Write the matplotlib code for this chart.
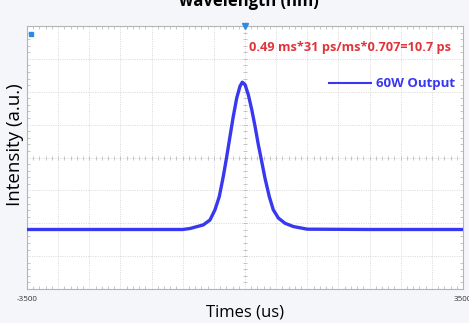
import numpy as np
import matplotlib
matplotlib.use('Agg')
import matplotlib.pyplot as plt

# Pulse trace (time in us, intensity in divisions)
time_us = [-3500, -2000, -1000, -883, -670, -562, -482, -413, -349, -294, -241, -188,
           -133, -80, -43, 0, 53, 108, 161, 214, 268, 321, 390, 454, 535, 642,
           776, 1000, 2000, 3500]
intensity = [1.81, 1.81, 1.81, 1.84, 1.95, 2.10, 2.41, 2.81, 3.42, 4.02, 4.64, 5.25,
             5.81, 6.17, 6.29, 6.22, 5.91, 5.46, 4.95, 4.39, 3.88, 3.37, 2.81, 2.41, 2.16, 2.00,
             1.90, 1.82, 1.81, 1.81]

x_range = (-3500, 3500)
y_range = (0, 8)
note = '0.49 ms*31 ps/ms*0.707=10.7 ps'
series_label = '60W Output'

plt.rcParams['font.family'] = ['Open Sans', 'DejaVu Sans']

fig = plt.figure(figsize=(4.69, 3.23), dpi=100, facecolor='#f4f6f9')
ax = fig.add_axes([27 / 469, 34 / 323, 436 / 469, 263 / 323])
ax.set_facecolor('white')

ax.set_xlim(*x_range)
ax.set_ylim(*y_range)

# oscilloscope grid
xt = np.arange(x_range[0], x_range[1] + 1, 500)
yt = np.arange(y_range[0], y_range[1] + 1, 1)
ax.set_xticks(xt)
ax.set_yticks(yt)
ax.set_xticklabels([str(v) if v in x_range else '' for v in xt])
ax.set_yticklabels([])
ax.grid(True, color='#d2d2d2', linestyle=(0, (1.2, 1.6)), linewidth=0.6)
ax.tick_params(axis='both', length=0, labelsize=5.8, labelcolor='#333333', pad=5)
ax.set_xticks(np.arange(x_range[0], x_range[1] + 1, 100), minor=True)
ax.set_yticks(np.arange(y_range[0], y_range[1] + 0.01, 0.2), minor=True)
ax.tick_params(which='minor', direction='in', length=2.5, color='#bcbcbc', width=0.6,
               top=True, right=True)
for s in ax.spines.values():
    s.set_color('#b4b4b4')
    s.set_linewidth(0.8)

# centre crosshair ticks
cx = np.arange(x_range[0], x_range[1] + 1, 100)
cy = np.arange(y_range[0], y_range[1] + 0.01, 0.2)
ax.plot(cx, np.full_like(cx, 4.0, dtype=float), '|', color='#bcbcbc', ms=3, mew=0.6)
ax.plot(np.zeros_like(cy), cy, '_', color='#bcbcbc', ms=3, mew=0.6)

ax.plot(time_us, intensity, color='#3838f0', lw=2.4, solid_joinstyle='round', zorder=3)

# scope markers
ax.plot([0], [8], marker='v', color='#2a8be8', ms=4, clip_on=False, zorder=4)
ax.plot([-3440], [7.77], marker='s', color='#2a8be8', ms=3.5, zorder=4)

ax.text(0.51, 0.918, note, transform=ax.transAxes, color='#e0333a', fontsize=9.2,
        fontweight='bold', va='center', ha='left')
ax.plot([0.693, 0.79], [0.782, 0.782], transform=ax.transAxes, color='#3838f0', lw=1.5)
ax.text(0.8, 0.782, series_label, transform=ax.transAxes, color='#3838f0', fontsize=9.5,
        fontweight='bold', va='center', ha='left')

ax.set_xlabel('Times (us)', fontsize=12)
ax.xaxis.set_label_coords(0.5, -0.058)
ax.set_ylabel('Intensity (a.u.)', fontsize=13.5)
ax.yaxis.set_label_coords(-0.008, 0.548)

fig.text(0.531, 1 - 6 / 323, 'wavelength (nm)', fontsize=12, fontweight='bold',
         ha='center', va='baseline')

fig.savefig('out.png', dpi=100, facecolor=fig.get_facecolor())
